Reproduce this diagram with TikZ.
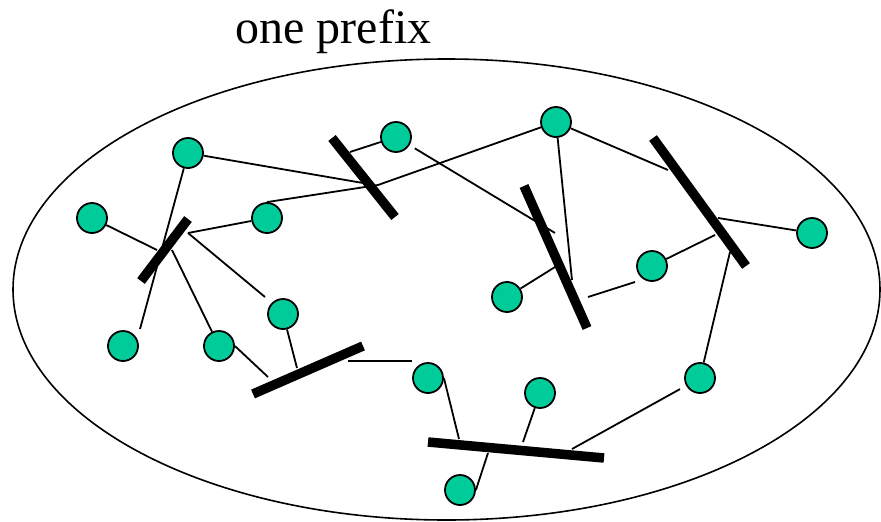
\documentclass[tikz,border=0pt]{standalone}
\usepackage{fontspec}
\setmainfont{Liberation Serif}
\definecolor{hostgreen}{HTML}{00CC99}
\begin{document}
\begin{tikzpicture}[x=1pt,y=-1pt,
  host/.style={circle,draw=black,line width=1.8pt,fill=hostgreen,minimum size=30pt,inner sep=0pt},
  lan/.style={line width=9.5pt,line cap=butt},
  link/.style={line width=1.8pt},
  boundary/.style={line width=1.6pt}]
\useasboundingbox (0,0) rectangle (881,522);
% prefix boundary
\draw[boundary] (446.5,289.5) ellipse [x radius=433.5pt, y radius=230.5pt];
\node[anchor=base,font=\fontsize{48}{58}\selectfont,inner sep=0pt] (title) at (333.5,43) {one prefix};
% hosts
\node[host] (A) at (188,153) {};
\node[host] (B) at (92,218) {};
\node[host] (C) at (267,218) {};
\node[host] (D) at (283,314) {};
\node[host] (E) at (123,346) {};
\node[host] (F) at (219,346) {};
\node[host] (G) at (396,137) {};
\node[host] (H) at (556,122) {};
\node[host] (I) at (507,297) {};
\node[host] (J) at (652,266) {};
\node[host] (K) at (812,233) {};
\node[host] (L) at (700,378) {};
\node[host] (M) at (428,378) {};
\node[host] (N) at (540,393) {};
\node[host] (O) at (460,490) {};
% LAN bars
\draw[lan] (141,281) -- (188,219);
\draw[lan] (332,138) -- (395,217);
\draw[lan] (524,186) -- (587,328);
\draw[lan] (653,138) -- (746,266);
\draw[lan] (428,442) -- (604,458);
\draw[lan] (253,394) -- (363,346);
% attachment points
\coordinate (a1) at (140,329);
\coordinate (b1) at (157,250);
\coordinate (f1) at (172,250);
\coordinate (j1) at (188,233);
\coordinate (d1) at (265,297);
\coordinate (a2) at (363,183);
\coordinate (c2) at (378,185);
\coordinate (g2) at (350,152);
\coordinate (g3) at (555,233);
\coordinate (h3) at (572,280);
\coordinate (i3) at (555,267);
\coordinate (j3a) at (588,297);
\coordinate (j3b) at (635,282);
\coordinate (j4) at (715,235);
\coordinate (k4) at (718,218);
\coordinate (h4) at (668,170);
\coordinate (l4) at (730,252);
\coordinate (l5) at (572,449);
\coordinate (m5) at (459,439);
\coordinate (n5) at (523,442);
\coordinate (o5) at (488,453);
\coordinate (d6) at (297,368);
\coordinate (f6) at (268,377);
\coordinate (h6a) at (348,361);
\coordinate (h6b) at (412,361);
% links
\draw[link] (A) -- (a1);
\draw[link] (B) -- (b1);
\draw[link] (f1) -- (F);
\draw[link] (j1) -- (C);
\draw[link] (j1) -- (d1);
\draw[link] (A) -- (a2);
\draw[link] (C.north) -- (c2) -- (H);
\draw[link] (G) -- (g2);
\draw[link,shorten <=6pt] (G) -- (g3);
\draw[link] (H) -- (h3);
\draw[link] (I) -- (i3);
\draw[link] (j3a) -- (j3b);
\draw[link] (J) -- (j4);
\draw[link] (K) -- (k4);
\draw[link] (H) -- (h4);
\draw[link] (L) -- (l4);
\draw[link,shorten <=7pt] (L) -- (l5);
\draw[link] (M.east) -- (m5);
\draw[link] (N) -- (n5);
\draw[link] (O.east) -- (o5);
\draw[link] (D) -- (d6);
\draw[link] (F.east) -- (f6);
\draw[link] (h6a) -- (h6b);
\end{tikzpicture}
\end{document}
